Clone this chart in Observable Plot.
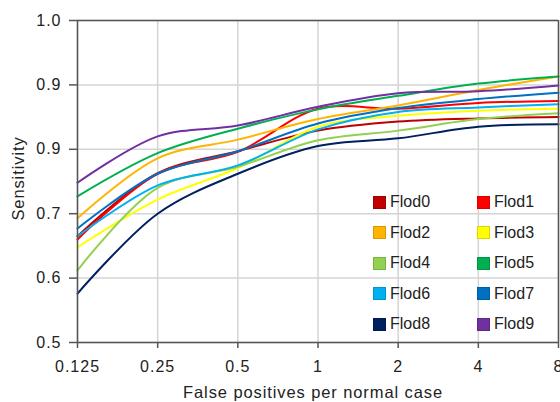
<!DOCTYPE html>
<html><head><meta charset="utf-8">
<script src="https://cdn.jsdelivr.net/npm/d3@7"></script>
<script src="https://cdn.jsdelivr.net/npm/@observablehq/plot@0.6"></script>
<style>
body{margin:0;background:#fff;}
#wrap{position:relative;width:560px;height:402px;font-family:"Liberation Sans",Arial,sans-serif;color:#222;}
#legend{position:absolute;left:373px;top:193px;display:grid;grid-template-columns:104px 80px;row-gap:12.5px;font-size:16px;line-height:18px;}
#legend .it{display:flex;align-items:center;white-space:nowrap;}
#legend .sw{width:11px;height:11px;margin-right:4px;border:0.5px solid rgba(0,0,0,0.15);}
svg g[aria-label="x-axis tick label"] text, svg g[aria-label="y-axis tick label"] text{letter-spacing:1px;}
</style>
</head><body>
<div id="wrap"><div id="legend"></div></div>
<script>
const fpr = [0.125, 0.25, 0.5, 1, 2, 4, 8];
const xTickLabels = ["0.125", "0.25", "0.5", "1", "2", "4", "8"];
const yTicks = [0.5, 0.6, 0.7, 0.8, 0.9, 1.0];
const yTickLabels = ["0.5", "0.6", "0.7", "0.9", "0.9", "1.0"];
const names = ["Flod0","Flod1","Flod2","Flod3","Flod4","Flod5","Flod6","Flod7","Flod8","Flod9"];
const colors = ["#C00000","#FF0000","#FFB400","#FFFF00","#92D050","#00B050","#00B0F0","#0070C0","#002060","#7030A0"];
const flod0 = [0.665, 0.763, 0.797, 0.829, 0.843, 0.848, 0.850];
const flod1 = [0.660, 0.762, 0.796, 0.863, 0.863, 0.872, 0.875];
const flod2 = [0.693, 0.786, 0.815, 0.847, 0.868, 0.892, 0.913];
const flod3 = [0.648, 0.722, 0.771, 0.835, 0.852, 0.860, 0.863];
const flod4 = [0.612, 0.740, 0.773, 0.814, 0.829, 0.847, 0.856];
const flod5 = [0.727, 0.794, 0.832, 0.862, 0.883, 0.902, 0.913];
const flod6 = [0.665, 0.744, 0.775, 0.831, 0.858, 0.865, 0.870];
const flod7 = [0.677, 0.762, 0.797, 0.840, 0.864, 0.878, 0.888];
const flod8 = [0.576, 0.700, 0.762, 0.805, 0.817, 0.835, 0.839];
const flod9 = [0.748, 0.820, 0.837, 0.866, 0.887, 0.890, 0.899];
const series = [flod0, flod1, flod2, flod3, flod4, flod5, flod6, flod7, flod8, flod9];

const rows = [];
series.forEach((vals, k) => vals.forEach((v, i) => rows.push({fold: names[k], fpr: fpr[i], sens: v})));

const axisColor = "#555";
const gridColor = "#d4d4d4";
const chart = Plot.plot({
  width: 560, height: 402,
  marginLeft: 77, marginRight: 2, marginTop: 20, marginBottom: 60,
  style: {fontFamily: '"Liberation Sans", Arial, sans-serif', color: "#222", background: "#fff"},
  x: {type: "log", base: 2, domain: [0.125, 8]},
  y: {domain: [0.5, 1.0]},
  color: {domain: names, range: colors},
  marks: [
    Plot.gridX(fpr, {stroke: gridColor, strokeOpacity: 1, strokeWidth: 1.5}),
    Plot.gridY(yTicks, {stroke: gridColor, strokeOpacity: 1, strokeWidth: 1.5}),
    Plot.line(rows, {x: "fpr", y: "sens", z: "fold", stroke: "fold", curve: "catmull-rom", strokeWidth: 2}),
    Plot.ruleY([1.0], {stroke: axisColor, strokeWidth: 1.5}),
    Plot.ruleX([8], {stroke: axisColor, strokeWidth: 1.5}),
    Plot.ruleY([0.5], {stroke: axisColor, strokeWidth: 1.5}),
    Plot.ruleX([0.125], {stroke: axisColor, strokeWidth: 1.5}),
    Plot.axisY(yTicks, {
      tickFormat: d => yTickLabels[yTicks.findIndex(t => Math.abs(t - d) < 1e-9)],
      tickSize: 8, tickPadding: 8, fontSize: 16, stroke: axisColor, strokeWidth: 1.5, label: null
    }),
    Plot.axisX(fpr, {
      tickFormat: d => xTickLabels[fpr.indexOf(d)],
      tickSize: 6, tickPadding: 12, fontSize: 16, stroke: axisColor, strokeWidth: 1.5, label: null
    }),
    Plot.text(["False positives per normal case"], {frameAnchor: "bottom", textAnchor: "middle", dy: 55, dx: -5, fontSize: 16.5, fill: "#222"}),
    Plot.text(["Sensitivity"], {frameAnchor: "left", textAnchor: "middle", dx: -59, dy: -3, rotate: -90, fontSize: 16.5, fill: "#222"})
  ]
});
document.getElementById("wrap").prepend(chart);
chart.querySelectorAll("text").forEach(t => {
  const s = t.textContent;
  if (s === "False positives per normal case" || s === "Sensitivity") t.setAttribute("letter-spacing", "0.9");
});

const legend = document.getElementById("legend");
names.forEach((n, k) => {
  const it = document.createElement("div");
  it.className = "it";
  it.innerHTML = `<span class="sw" style="background:${colors[k]}"></span><span>${n}</span>`;
  legend.appendChild(it);
});
</script>
</body></html>
